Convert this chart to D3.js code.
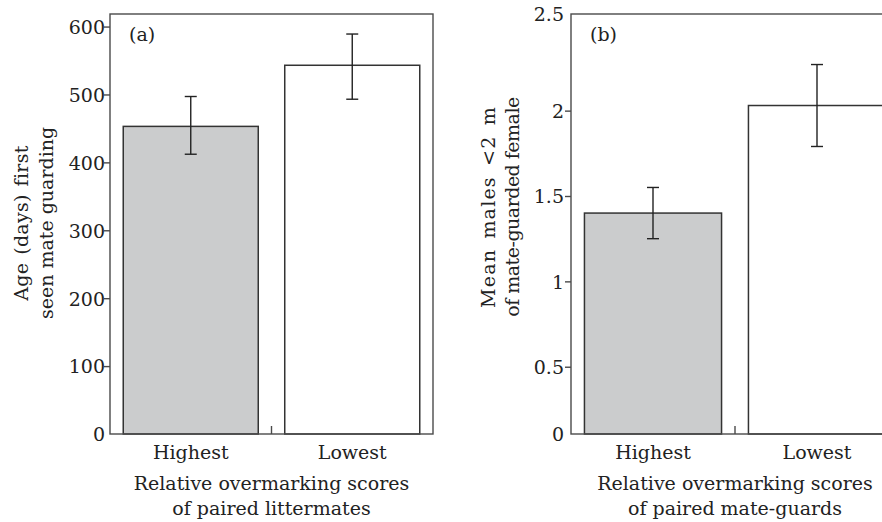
<!DOCTYPE html>
<html>
<head>
<meta charset="utf-8">
<script src="https://cdn.jsdelivr.net/npm/d3@7"></script>
<style>
  html, body { margin: 0; padding: 0; background: #fff; }
  svg { display: block; }
  text { font-family: "DejaVu Serif", "Liberation Serif", serif; fill: #222; }
</style>
</head>
<body>
<svg id="chart" width="882" height="522"></svg>
<script>
// Categories shared by both panels
const categories = ["Highest", "Lowest"];
const barFills = ["#cbcccd", "#ffffff"];

// (a) Age (days) when first seen mate guarding
const meansA = [453, 543];
const errHiA = [497, 589];
const errLoA = [412, 493];
const tickValsA = [100, 200, 300, 400, 500, 600];
const endLabelsA = ["0"];

// (b) Mean number of males within 2 m of the mate-guarded female
const meansB = [1.40, 2.03];
const errHiB = [1.55, 2.27];
const errLoB = [1.25, 1.79];
const tickValsB = [0.5, 1, 1.5, 2];
const endLabelsB = ["0", "2.5"];

const svg = d3.select("#chart");
const FONT = 19;

function panel(opts) {
  const { left, right, top, bottom, yDomain, means, hi, lo, tickVals,
          endLabels, tickPad, letter, yTitle, yTitleX, yTitleY, yTitleStyle, xTitle } = opts;
  const g = svg.append("g");

  const x = d3.scaleBand().domain(categories).range([left, right])
    .paddingInner(0.164).paddingOuter(0.082);
  const y = d3.scaleLinear().domain(yDomain).range([bottom, top]);

  // bars
  g.selectAll("rect.bar").data(categories).join("rect")
    .attr("class", "bar")
    .attr("x", d => x(d))
    .attr("width", x.bandwidth())
    .attr("y", (d, i) => y(means[i]))
    .attr("height", (d, i) => y(yDomain[0]) - y(means[i]))
    .attr("fill", (d, i) => barFills[i])
    .attr("stroke", "#333")
    .attr("stroke-width", 1.5);

  // error bars
  const cap = 6;
  const eb = g.selectAll("g.err").data(categories).join("g").attr("class", "err")
    .attr("stroke", "#222").attr("stroke-width", 1.4);
  eb.append("line")
    .attr("x1", d => x(d) + x.bandwidth() / 2).attr("x2", d => x(d) + x.bandwidth() / 2)
    .attr("y1", (d, i) => y(hi[i])).attr("y2", (d, i) => y(lo[i]));
  eb.append("line")
    .attr("x1", d => x(d) + x.bandwidth() / 2 - cap).attr("x2", d => x(d) + x.bandwidth() / 2 + cap)
    .attr("y1", (d, i) => y(hi[i])).attr("y2", (d, i) => y(hi[i]));
  eb.append("line")
    .attr("x1", d => x(d) + x.bandwidth() / 2 - cap).attr("x2", d => x(d) + x.bandwidth() / 2 + cap)
    .attr("y1", (d, i) => y(lo[i])).attr("y2", (d, i) => y(lo[i]));

  // frame
  g.append("rect")
    .attr("x", left).attr("y", top)
    .attr("width", right - left).attr("height", bottom - top)
    .attr("fill", "none").attr("stroke", "#4a4a4a").attr("stroke-width", 1.4);

  // inward tick between the two categories
  const mid = (left + right) / 2;
  g.append("line")
    .attr("x1", mid).attr("x2", mid).attr("y1", bottom - 8).attr("y2", bottom)
    .attr("stroke", "#4a4a4a").attr("stroke-width", 1.4);

  // y axis
  const ax = g.append("g").attr("transform", `translate(${left},0)`)
    .call(d3.axisLeft(y).tickValues(tickVals).tickSize(6).tickPadding(tickPad)
      .tickFormat(d3.format("~g")));
  ax.select(".domain").remove();
  ax.selectAll(".tick line").attr("stroke", "#4a4a4a").attr("stroke-width", 1.4);
  ax.selectAll(".tick text").attr("font-size", FONT).attr("font-family", null)
    .attr("dy", "0.36em").attr("fill", "#222");

  // end-of-axis labels (no tick marks)
  const ends = [y.range()[0], y.range()[1]];
  g.selectAll("text.endlab").data(endLabels).join("text")
    .attr("class", "endlab")
    .attr("x", left - 6 - tickPad).attr("y", (d, i) => ends[i])
    .attr("dy", "0.36em").attr("text-anchor", "end").attr("font-size", FONT)
    .text(d => d);

  // category labels
  g.selectAll("text.cat").data(categories).join("text")
    .attr("class", "cat")
    .attr("x", d => x(d) + x.bandwidth() / 2).attr("y", 459)
    .attr("text-anchor", "middle").attr("font-size", FONT)
    .text(d => d);

  // x title
  xTitle.forEach((t, i) => {
    g.append("text").attr("x", mid).attr("y", 490 + i * 24.5)
      .attr("text-anchor", "middle").attr("font-size", FONT).text(t);
  });

  // y title (rotated)
  yTitle.forEach((t, i) => {
    g.append("text")
      .attr("transform", `translate(${yTitleX[i]},${yTitleY}) rotate(-90)`)
      .attr("text-anchor", "middle").attr("font-size", FONT)
      .attr("word-spacing", yTitleStyle[i].word)
      .attr("letter-spacing", yTitleStyle[i].letter)
      .text(t);
  });

  // panel letter
  g.append("text").attr("x", left + 19).attr("y", 41)
    .attr("font-size", FONT).text(letter);
}

panel({
  left: 110, right: 433, top: 14, bottom: 434,
  yDomain: [0, 618.5],
  means: meansA, hi: errHiA, lo: errLoA,
  tickVals: tickValsA, endLabels: endLabelsA, tickPad: -1,
  letter: "(a)",
  yTitle: ["Age (days) first", "seen mate guarding"],
  yTitleX: [28, 53], yTitleY: 223,
  yTitleStyle: [{ word: 1.5, letter: 0.3 }, { word: 0, letter: 0 }],
  xTitle: ["Relative overmarking scores", "of paired littermates"]
});

panel({
  left: 571, right: 899, top: 14, bottom: 434,
  yDomain: [0.106, 2.566],
  means: meansB, hi: errHiB, lo: errLoB,
  tickVals: tickValsB, endLabels: endLabelsB, tickPad: 1,
  letter: "(b)",
  yTitle: ["Mean males <2 m", "of mate-guarded female"],
  yTitleX: [495, 519], yTitleY: 207,
  yTitleStyle: [{ word: 3, letter: 1.2 }, { word: 0, letter: -0.5 }],
  xTitle: ["Relative overmarking scores", "of paired mate-guards"]
});
</script>
</body>
</html>
